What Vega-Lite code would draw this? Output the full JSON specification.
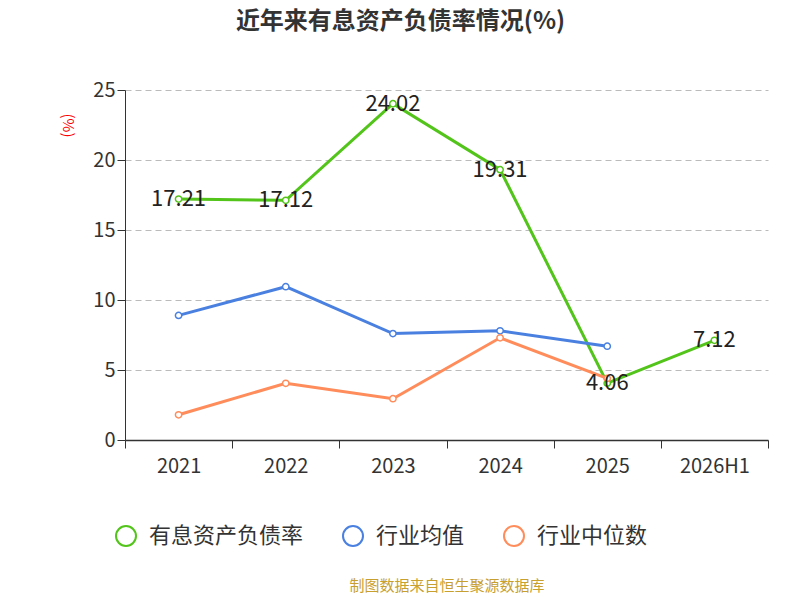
{
  "$schema": "https://vega.github.io/schema/vega-lite/v6.json",
  "width": 643,
  "height": 350,
  "autosize": {"type": "none"},
  "padding": {"left": 125, "top": 90, "right": 32, "bottom": 160},
  "background": "white",
  "title": {"text": "近年来有息资产负债率情况(%)", "fontSize": 24, "fontWeight": "bold", "color": "#333", "font": "Noto Sans CJK SC", "anchor": "middle", "frame": "group", "dx": -46, "offset": 46},
  "config": {"font": "Noto Sans CJK SC", "view": {"stroke": null}},
  "data": {"values": [
    {"year": "2021", "s": "有息资产负债率", "v": 17.21},
    {"year": "2022", "s": "有息资产负债率", "v": 17.12},
    {"year": "2023", "s": "有息资产负债率", "v": 24.02},
    {"year": "2024", "s": "有息资产负债率", "v": 19.31},
    {"year": "2025", "s": "有息资产负债率", "v": 4.06},
    {"year": "2026H1", "s": "有息资产负债率", "v": 7.12},
    {"year": "2021", "s": "行业均值", "v": 8.9},
    {"year": "2022", "s": "行业均值", "v": 10.95},
    {"year": "2023", "s": "行业均值", "v": 7.6},
    {"year": "2024", "s": "行业均值", "v": 7.8},
    {"year": "2025", "s": "行业均值", "v": 6.7},
    {"year": "2021", "s": "行业中位数", "v": 1.8},
    {"year": "2022", "s": "行业中位数", "v": 4.05},
    {"year": "2023", "s": "行业中位数", "v": 2.95},
    {"year": "2024", "s": "行业中位数", "v": 7.3},
    {"year": "2025", "s": "行业中位数", "v": 4.4}
  ]},
  "encoding": {
    "x": {"field": "year", "type": "nominal", "sort": null, "scale": {"type": "band", "paddingInner": 0, "paddingOuter": 0},
      "axis": {"title": "制图数据来自恒生聚源数据库", "titleColor": "#c8a030", "titleFontSize": 15, "titleFontWeight": "normal", "titleY": 138, "labelAngle": 0, "labelFontSize": 20, "labelColor": "#333", "labelPadding": 8, "tickBand": "extent", "tickSize": 8, "domainColor": "#333", "tickColor": "#333", "domainWidth": 1.5, "grid": false}},
    "y": {"field": "v", "type": "quantitative", "scale": {"domain": [0, 25]},
      "axis": {"title": "(%)", "titleColor": "red", "titleFontSize": 15, "titleFontWeight": "normal", "titleAngle": 90, "titleX": -66, "titleY": 35, "values": [0, 5, 10, 15, 20, 25], "labelFontSize": 20, "labelColor": "#333", "tickSize": 8, "domainColor": "#333", "tickColor": "#333", "gridDash": [6, 4], "gridColor": "#bbb"}},
    "color": {"field": "s", "type": "nominal", "scale": {"domain": ["有息资产负债率", "行业均值", "行业中位数"], "range": ["#52c41a", "#4a80e0", "#ff8c5a"]},
      "legend": {"title": null, "orient": "none", "direction": "horizontal", "legendX": -10, "legendY": 435, "labelFontSize": 22, "labelColor": "#333", "symbolType": "circle", "symbolSize": 400, "symbolStrokeWidth": 2, "symbolFillColor": "white", "columnPadding": 35, "labelOffset": 12}}
  },
  "layer": [
    {"mark": {"type": "line", "strokeWidth": 3, "point": {"filled": false, "fill": "white", "size": 40, "strokeWidth": 1.5}}},
    {"transform": [{"filter": "datum.s === '有息资产负债率'"}], "mark": {"type": "text", "fontSize": 22, "color": "#222"}, "encoding": {"text": {"field": "v", "format": ".2f"}, "color": {"value": "#222"}}}
  ]
}
